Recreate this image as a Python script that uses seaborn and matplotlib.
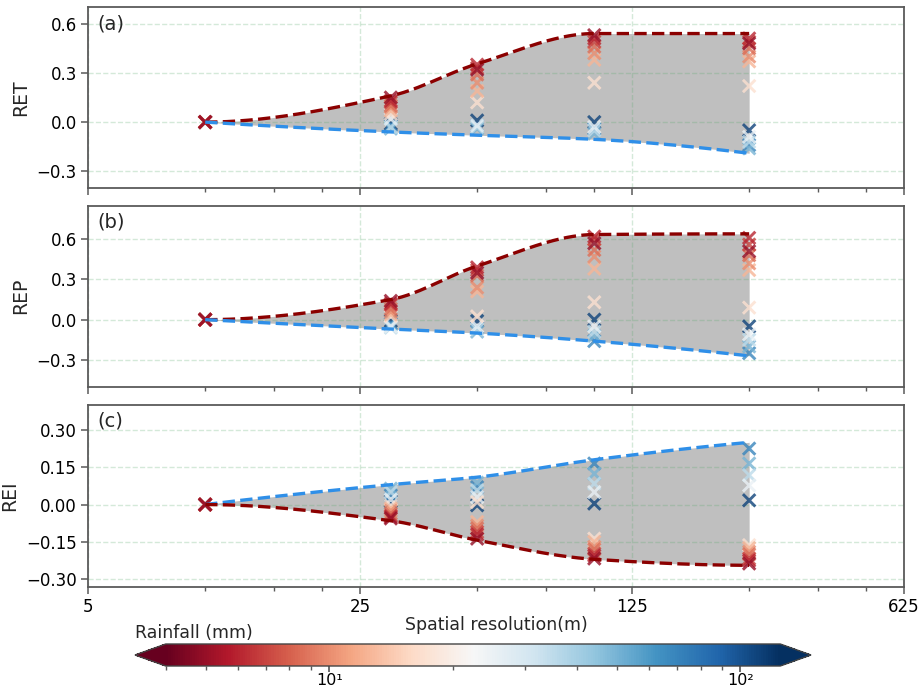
import numpy as np
import pandas as pd
import matplotlib
matplotlib.use("Agg")
import matplotlib.pyplot as plt
from matplotlib.colors import LogNorm
from matplotlib.ticker import FixedLocator, FuncFormatter, NullFormatter, LogLocator
import seaborn as sns

# ---------------- data ----------------
resolution = [10, 30, 50, 100, 250]          # spatial resolution (m)
rainfall = [5, 6, 7, 8.5, 10, 12.5, 17, 25, 35, 50, 70, 110]   # event rainfall (mm)

# relative error per resolution (rows) and rainfall event (columns)
ret_values = [
    [0.0] * 12,
    [0.15, 0.13, 0.12, 0.10, 0.09, 0.07, 0.05, 0.02, -0.03, -0.04, -0.02, -0.01],
    [0.32, 0.35, 0.33, 0.29, 0.24, 0.19, 0.12, -0.02, -0.03, -0.04, -0.02, 0.01],
    [0.53, 0.51, 0.49, 0.46, 0.42, 0.38, 0.24, -0.03, -0.05, -0.07, -0.04, 0.00],
    [0.48, 0.51, 0.49, 0.45, 0.40, 0.37, 0.22, -0.09, -0.12, -0.16, -0.14, -0.05],
]
rep_values = [
    [0.0] * 12,
    [0.14, 0.12, 0.11, 0.08, 0.06, 0.04, 0.025, -0.05, -0.06, -0.04, -0.03, -0.01],
    [0.35, 0.39, 0.37, 0.33, 0.24, 0.21, 0.025, -0.05, -0.07, -0.09, -0.06, -0.01],
    [0.57, 0.62, 0.60, 0.52, 0.47, 0.38, 0.13, -0.05, -0.09, -0.12, -0.16, 0.00],
    [0.51, 0.61, 0.56, 0.48, 0.42, 0.37, 0.09, -0.11, -0.15, -0.20, -0.25, -0.05],
]
rei_values = [
    [0.0] * 12,
    [-0.056, -0.05, -0.045, -0.036, -0.025, -0.016, -0.005, 0.02, 0.05, 0.064, 0.037, 0.013],
    [-0.137, -0.12, -0.11, -0.096, -0.085, -0.07, 0.01, 0.03, 0.057, 0.088, 0.07, -0.003],
    [-0.217, -0.205, -0.197, -0.18, -0.17, -0.15, -0.137, 0.05, 0.084, 0.124, 0.165, 0.004],
    [-0.237, -0.225, -0.217, -0.20, -0.19, -0.175, -0.163, 0.077, 0.118, 0.165, 0.225, 0.017],
]

# envelopes of the relative error range
ret_upper = [0.0, 0.16, 0.355, 0.54, 0.54]
ret_lower = [0.0, -0.06, -0.08, -0.105, -0.19]
rep_upper = [0.0, 0.15, 0.40, 0.635, 0.64]
rep_lower = [0.0, -0.07, -0.10, -0.16, -0.27]
rei_upper = [0.0, 0.08, 0.11, 0.18, 0.25]
rei_lower = [0.0, -0.065, -0.143, -0.22, -0.244]

panel_names = ["RET", "REP", "REI"]
panel_tags = ["(a)", "(b)", "(c)"]
x_ticks = [5, 25, 125, 625]
cbar_ticks = [10, 100]
cbar_ticklabels = ["10\u00b9", "10\u00b2"]


def pchip(xk, yk, xq):
    """Monotone piecewise cubic Hermite interpolation."""
    xk = np.asarray(xk, float)
    yk = np.asarray(yk, float)
    h = np.diff(xk)
    d = np.diff(yk) / h
    n = len(xk)
    m = np.zeros(n)
    for k in range(1, n - 1):
        if d[k - 1] * d[k] <= 0:
            m[k] = 0.0
        else:
            w1 = 2 * h[k] + h[k - 1]
            w2 = h[k] + 2 * h[k - 1]
            m[k] = (w1 + w2) / (w1 / d[k - 1] + w2 / d[k])

    def edge(h0, h1, d0, d1):
        s = ((2 * h0 + h1) * d0 - h0 * d1) / (h0 + h1)
        if np.sign(s) != np.sign(d0):
            return 0.0
        if np.sign(d0) != np.sign(d1) and abs(s) > 3 * abs(d0):
            return 3 * d0
        return s

    m[0] = edge(h[0], h[1], d[0], d[1])
    m[-1] = edge(h[-1], h[-2], d[-1], d[-2])
    xq = np.asarray(xq, float)
    idx = np.clip(np.searchsorted(xk, xq) - 1, 0, n - 2)
    t = (xq - xk[idx]) / h[idx]
    h00 = 2 * t**3 - 3 * t**2 + 1
    h10 = t**3 - 2 * t**2 + t
    h01 = -2 * t**3 + 3 * t**2
    h11 = t**3 - t**2
    return (h00 * yk[idx] + h10 * h[idx] * m[idx]
            + h01 * yk[idx + 1] + h11 * h[idx] * m[idx + 1])


def long_table(values):
    rows = []
    for i, r in enumerate(resolution):
        for j, rain in enumerate(rainfall):
            rows.append({"res": r, "rain": rain, "val": values[i][j]})
    df = pd.DataFrame(rows)
    return df.sort_values("rain", ascending=False)


# ---------------- figure ----------------
sns.set_theme(style="ticks")
plt.rcParams.update({
    "font.family": ["DejaVu Sans"],
    "axes.edgecolor": "#5a5a5a",
    "axes.linewidth": 1.3,
    "xtick.color": "#5a5a5a",
    "ytick.color": "#5a5a5a",
    "xtick.labelcolor": "black",
    "ytick.labelcolor": "black",
    "xtick.labelsize": 12,
    "ytick.labelsize": 12,
})

fig = plt.figure(figsize=(9.2, 6.91), dpi=100)
W, H = 920.0, 691.0
left, right = 88 / W, 904 / W
panel_px = [(7.3, 187.7), (205.7, 386.7), (405.0, 586.7)]

cmap = plt.get_cmap("RdBu")
norm = LogNorm(vmin=4, vmax=125)
red_line = "#8b0000"
blue_line = "#2f8fe8"

panels = [
    (ret_values, ret_upper, ret_lower, (-0.4, 0.7), [-0.3, 0.0, 0.3, 0.6], "{:.1f}", red_line, blue_line),
    (rep_values, rep_upper, rep_lower, (-0.5, 0.85), [-0.3, 0.0, 0.3, 0.6], "{:.1f}", red_line, blue_line),
    (rei_values, rei_upper, rei_lower, (-0.33, 0.40), [-0.30, -0.15, 0.0, 0.15, 0.30], "{:.2f}", blue_line, red_line),
]

xs_dense = np.logspace(np.log10(resolution[0]), np.log10(resolution[-1]), 300)
log_res = np.log10(resolution)

axes = []
for k, (vals, upper, lower, ylim, yticks, fmt, c_up, c_lo) in enumerate(panels):
    top, bot = panel_px[k]
    ax = fig.add_axes([left, 1 - bot / H, right - left, (bot - top) / H])
    axes.append(ax)

    up_curve = pchip(log_res, upper, np.log10(xs_dense))
    lo_curve = pchip(log_res, lower, np.log10(xs_dense))
    ax.fill_between(xs_dense, lo_curve, up_curve, color="gray", alpha=0.5, linewidth=0, zorder=1)

    sns.scatterplot(data=long_table(vals), x="res", y="val", hue="rain",
                    hue_norm=norm, palette="RdBu", marker="x", s=80,
                    linewidth=2.1, alpha=0.8, legend=False, ax=ax, zorder=3)

    ax.plot(xs_dense, up_curve, color=c_up, linestyle="--", linewidth=2.4, zorder=4)
    ax.plot(xs_dense, lo_curve, color=c_lo, linestyle="--", linewidth=2.4, zorder=4)

    ax.set_xscale("log", base=5)
    ax.set_xlim(5, 625)
    ax.xaxis.set_major_locator(FixedLocator(x_ticks))
    ax.xaxis.set_minor_locator(LogLocator(base=5, subs=(2, 3, 4)))
    ax.xaxis.set_minor_formatter(NullFormatter())
    if k < 2:
        ax.xaxis.set_major_formatter(NullFormatter())
    else:
        ax.xaxis.set_major_formatter(FuncFormatter(lambda v, p: f"{int(round(v))}"))
        ax.set_xlabel("Spatial resolution(m)", fontsize=12.5, labelpad=0)

    ax.set_ylim(*ylim)
    ax.set_yticks(yticks)
    ax.yaxis.set_major_formatter(FuncFormatter(lambda v, p, f=fmt: f.format(v).replace("-", "\u2212")))
    ax.set_ylabel(panel_names[k], fontsize=13.5, labelpad=5)

    ax.grid(True, which="major", linestyle="--", color="g", alpha=0.25, linewidth=1.0)
    ax.set_axisbelow("line")
    ax.tick_params(which="major", length=5, width=1.1, pad=3)
    ax.tick_params(which="minor", length=3, width=1.0)
    ax.text(0.011, 0.91, panel_tags[k], transform=ax.transAxes, fontsize=14,
            va="center", ha="left")

# colorbar (axes spans the extension triangles as well)
cax = fig.add_axes([135 / W, 1 - 666 / H, (811 - 135) / W, 22 / H])
sm = matplotlib.cm.ScalarMappable(norm=norm, cmap=cmap)
cb = fig.colorbar(sm, cax=cax, orientation="horizontal", extend="both")
cb.outline.set_edgecolor("#444444")
cb.outline.set_linewidth(1.0)
cb.set_ticks(cbar_ticks, labels=cbar_ticklabels)
cax.xaxis.set_minor_locator(LogLocator(base=10, subs=np.arange(2, 10)))
cax.tick_params(which="major", length=4, pad=1, labelsize=11.5, color="#5a5a5a")
cax.tick_params(which="minor", length=3, color="#5a5a5a")
fig.text(135 / W, 1 - 638 / H, "Rainfall (mm)", fontsize=12.5, ha="left", va="baseline")

fig.savefig("out.png", dpi=100)
